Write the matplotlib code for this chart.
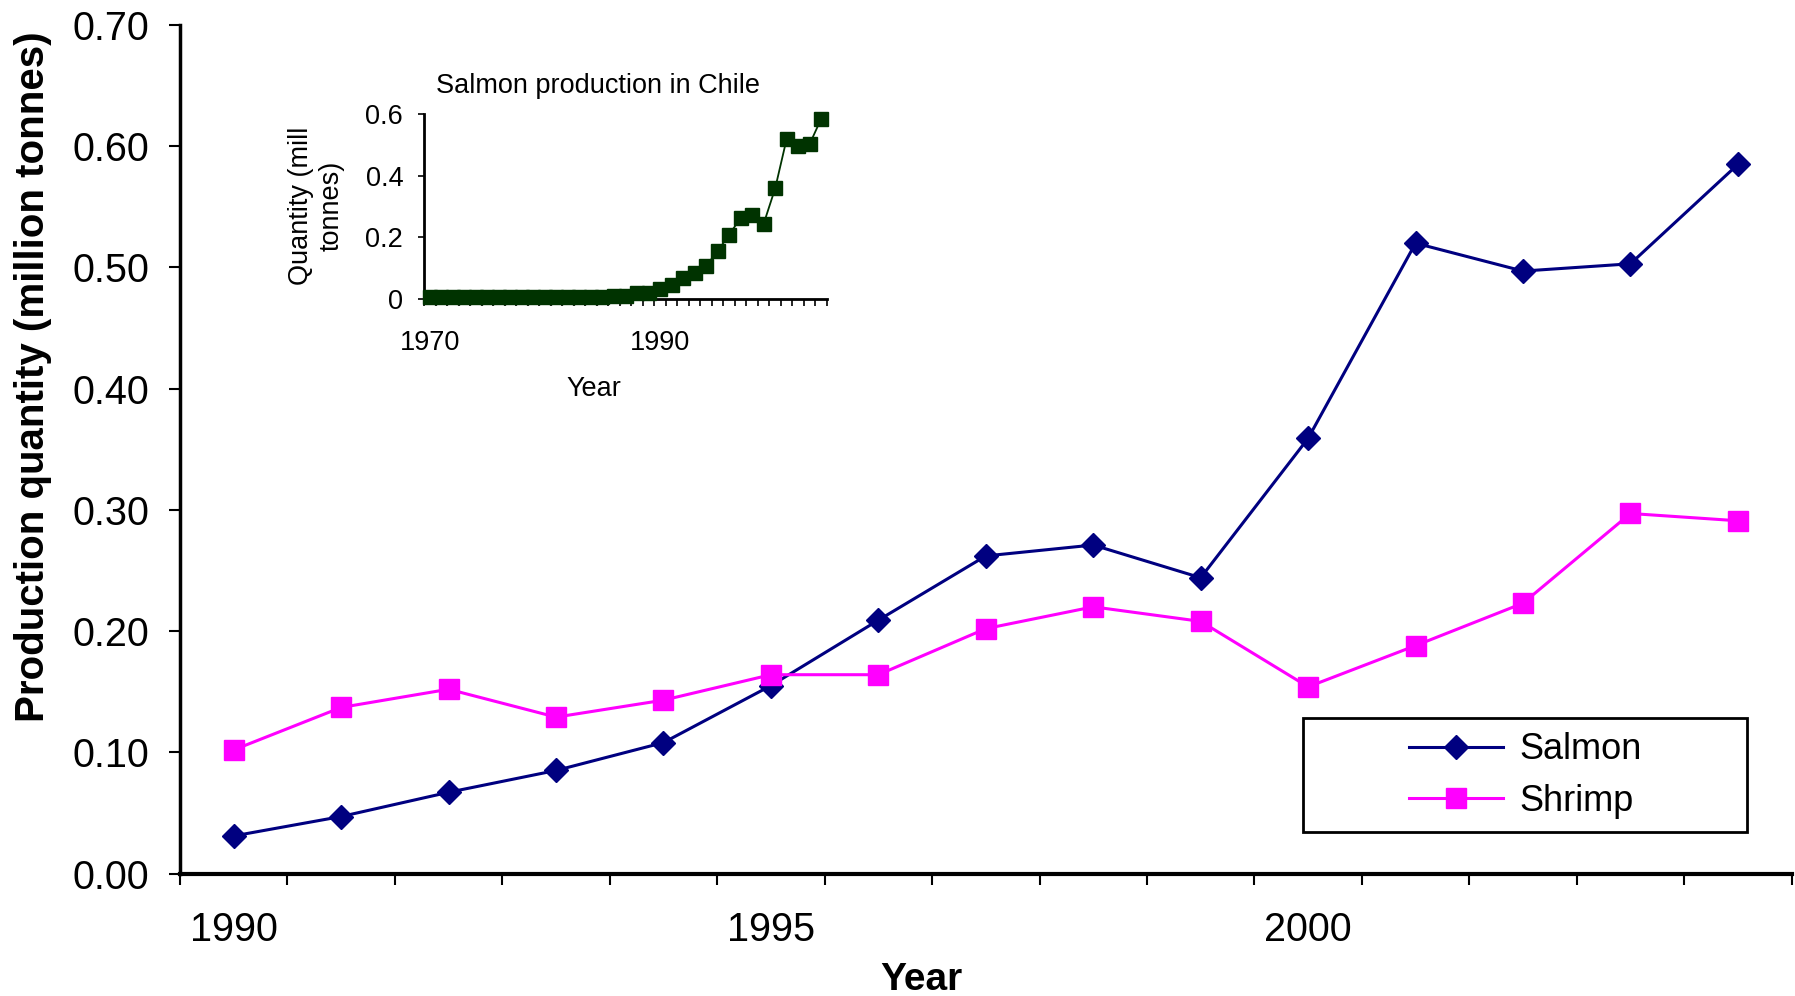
import matplotlib
matplotlib.use("Agg")
import matplotlib.pyplot as plt
import matplotlib.patches as mpatches
import numpy as np

plt.rcParams['font.family'] = ['Liberation Sans', 'DejaVu Sans']

# main chart data (million tonnes)
years = ['1990', '1991', '1992', '1993', '1994', '1995', '1996', '1997',
         '1998', '1999', '2000', '2001', '2002', '2003', '2004']
salmon = [0.031, 0.047, 0.067, 0.085, 0.108, 0.155, 0.209, 0.262,
          0.271, 0.244, 0.359, 0.520, 0.497, 0.503, 0.585]
shrimp = [0.102, 0.137, 0.152, 0.129, 0.143, 0.164, 0.164, 0.202,
          0.220, 0.208, 0.154, 0.188, 0.223, 0.297, 0.291]
main_labels = ['1990', '1995', '2000']

# inset data: salmon in Chile 1970-2004
chile_years = list(range(1970, 2005))
chile_salmon = [0.005, 0.005, 0.005, 0.005, 0.005, 0.005, 0.005, 0.005,
                0.005, 0.005, 0.005, 0.005, 0.005, 0.005, 0.007, 0.007,
                0.010, 0.010, 0.018, 0.018,
                0.031, 0.047, 0.067, 0.085, 0.108, 0.155, 0.209, 0.262,
                0.271, 0.244, 0.359, 0.520, 0.497, 0.503, 0.585]
inset_labels = ['1970', '1990']

W, H = 1795, 996
fig = plt.figure(figsize=(W / 100, H / 100), dpi=100)

# ---- main axes
ax = fig.add_axes([180 / W, 1 - 873.5 / H, (1791.6 - 180) / W, (873.5 - 25) / H])
x = np.arange(len(years))
ax.plot(x, salmon, color='#000080', lw=2.2, marker='D', ms=12, label='Salmon', zorder=3)
ax.plot(x, shrimp, color='#FF00FF', lw=2.2, marker='s', ms=14, label='Shrimp', zorder=3)

ax.set_xlim(-0.5, len(years) - 0.5)
ax.set_ylim(0, 0.7)
ax.set_yticks(np.arange(0, 0.71, 0.1))
ax.set_yticklabels(['%.2f' % v for v in np.arange(0, 0.71, 0.1)])
ax.set_xticks([years.index(l) for l in main_labels])
ax.set_xticklabels(main_labels)
ax.set_xticks(np.arange(-0.5, len(years), 1), minor=True)
ax.tick_params(axis='x', which='major', length=0, pad=27, labelsize=28.5)
ax.tick_params(axis='x', which='minor', length=8, width=1.5, direction='out')
ax.tick_params(axis='y', length=8, width=1.5, direction='out', pad=14, labelsize=28.5)
for s in ['top', 'right']:
    ax.spines[s].set_visible(False)
ax.spines['left'].set_linewidth(2.5)
ax.spines['bottom'].set_linewidth(3)

ax.set_ylabel('Production quantity (million tonnes)', fontsize=29, fontweight='bold')
ax.yaxis.set_label_coords(-0.0797, 0.585)
ax.set_xlabel('Year', fontsize=28, fontweight='bold')
ax.xaxis.set_label_coords(0.460, -0.1038)

# legend with box
box = mpatches.Rectangle((0.6967, 0.0486), 0.2756, 0.135, transform=ax.transAxes,
                         facecolor='white', edgecolor='black', lw=2, zorder=4)
ax.add_patch(box)
leg = ax.legend(loc='center', bbox_to_anchor=(0.835, 0.1156), frameon=False,
                fontsize=26, handlelength=2.6, handletextpad=0.45, labelspacing=0.45)
leg.set_zorder(5)

# ---- inset
axi = fig.add_axes([424 / W, 1 - 299 / H, 403 / W, 185 / H])
xi = np.arange(len(chile_years))
axi.plot(xi, chile_salmon, color='#003300', lw=1.3, marker='s', ms=10, clip_on=False, zorder=3)
axi.set_xlim(-0.5, len(chile_years) - 0.5)
axi.set_ylim(0, 0.6)
axi.set_yticks([0, 0.2, 0.4, 0.6])
axi.set_yticklabels(['0', '0.2', '0.4', '0.6'])
axi.set_xticks([chile_years.index(int(l)) for l in inset_labels])
axi.set_xticklabels(inset_labels)
axi.set_xticks(np.arange(-0.5, len(chile_years), 1), minor=True)
axi.tick_params(axis='x', which='major', length=0, pad=22, labelsize=19.5)
axi.tick_params(axis='x', which='minor', length=5, width=1.2, direction='out')
axi.tick_params(axis='y', length=4, width=1.2, direction='out', pad=11, labelsize=19.5)
for s in ['top', 'right']:
    axi.spines[s].set_visible(False)
axi.spines['left'].set_linewidth(2)
axi.spines['bottom'].set_linewidth(2)
axi.patch.set_alpha(0)

fig.text(598 / W, 1 - 86 / H, 'Salmon production in Chile', fontsize=19.5, ha='center', va='center')
fig.text(316 / W, 1 - 206 / H, 'Quantity (mill\ntonnes)', fontsize=19.5, rotation=90,
         ha='center', va='center', multialignment='center', linespacing=1.25)
fig.text(594 / W, 1 - 389 / H, 'Year', fontsize=19.5, ha='center', va='center')

fig.savefig('out.png', dpi=100)
